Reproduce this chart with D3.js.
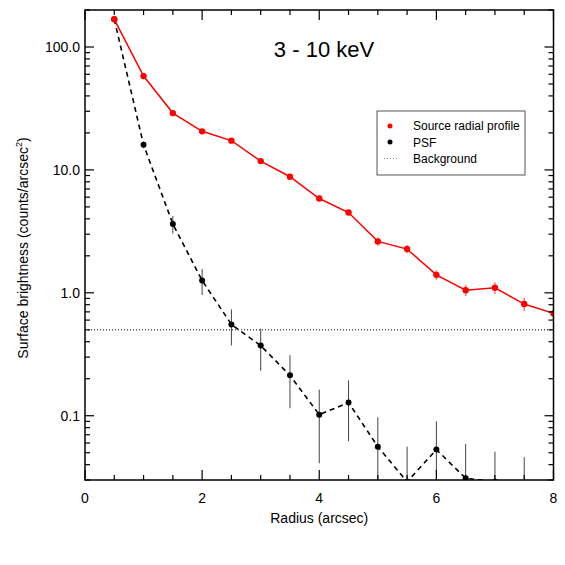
<!DOCTYPE html>
<html>
<head>
<meta charset="utf-8">
<script src="https://cdn.jsdelivr.net/npm/d3@7"></script>
<style>
  body { margin: 0; background: #fff; }
  text { font-family: "Liberation Sans", Arial, Helvetica, sans-serif; fill: #000; }
</style>
</head>
<body>
<script>
// ---- data ----
const radius = [0.5, 1.0, 1.5, 2.0, 2.5, 3.0, 3.5, 4.0, 4.5, 5.0, 5.5, 6.0, 6.5, 7.0, 7.5, 8.0];
const sourceValues = [168, 58, 29, 20.6, 17.3, 11.8, 8.8, 5.85, 4.5, 2.62, 2.27, 1.4, 1.05, 1.1, 0.81, 0.68];
const sourceErrors = [3, 1.5, 0.8, 0.6, 0.5, 0.4, 0.35, 0.25, 0.22, 0.2, 0.17, 0.13, 0.11, 0.12, 0.1, 0.08];
const psfValues = [168, 16.0, 3.63, 1.26, 0.553, 0.372, 0.213, 0.102, 0.128, 0.056, 0.029, 0.053, 0.031, 0.029, 0.021, 0.019];
const psfErrors = [3, 1.0, 0.59, 0.30, 0.18, 0.14, 0.098, 0.061, 0.066, 0.041, 0.027, 0.037, 0.028, 0.022, 0.025, 0.02];
const background = 0.5;
const yTickValues = [0.1, 1, 10, 100];
const yTickLabels = ["0.1", "1.0", "10.0", "100.0"];
const xTickValues = [0, 2, 4, 6, 8];
const xTickLabels = ["0", "2", "4", "6", "8"];
const title = "3 - 10 keV";
const xLabel = "Radius (arcsec)";
const legendLabels = ["Source radial profile", "PSF", "Background"];

// ---- layout ----
const W = 565, H = 565;
const margin = { left: 85, right: 11.5, top: 10, bottom: 85 };
const iw = W - margin.left - margin.right, ih = H - margin.top - margin.bottom;

const svg = d3.select("body").append("svg").attr("width", W).attr("height", H);
const g = svg.append("g").attr("transform", `translate(${margin.left},${margin.top})`);

const x = d3.scaleLinear().domain([0, 8]).range([0, iw]);
const y = d3.scaleLog().domain([0.03, 200]).range([ih, 0]);

svg.append("defs").append("clipPath").attr("id", "clip")
  .append("rect").attr("x", 0).attr("y", 0).attr("width", iw).attr("height", ih);

const plot = g.append("g").attr("clip-path", "url(#clip)");

// background line
plot.append("line")
  .attr("x1", x(0)).attr("x2", x(8))
  .attr("y1", y(background)).attr("y2", y(background))
  .attr("stroke", "#000").attr("stroke-width", 1).attr("stroke-dasharray", "1,2");

const safeLow = (v, e) => (v - e > 1e-4 ? v - e : 1e-4);

// PSF
const psf = radius.map((r, i) => ({ r, v: psfValues[i], e: psfErrors[i] }));
plot.selectAll(".psfErr").data(psf).enter().append("line")
  .attr("x1", d => x(d.r)).attr("x2", d => x(d.r))
  .attr("y1", d => y(d.v + d.e)).attr("y2", d => y(safeLow(d.v, d.e)))
  .attr("stroke", "#444").attr("stroke-width", 1);
plot.append("path").datum(psf)
  .attr("d", d3.line().x(d => x(d.r)).y(d => y(d.v)))
  .attr("fill", "none").attr("stroke", "#000").attr("stroke-width", 1.6)
  .attr("stroke-dasharray", "5,4");
plot.selectAll(".psfPt").data(psf).enter().append("circle")
  .attr("cx", d => x(d.r)).attr("cy", d => y(d.v)).attr("r", 3).attr("fill", "#000");

// Source
const src = radius.map((r, i) => ({ r, v: sourceValues[i], e: sourceErrors[i] }));
plot.selectAll(".srcErr").data(src).enter().append("line")
  .attr("x1", d => x(d.r)).attr("x2", d => x(d.r))
  .attr("y1", d => y(d.v + d.e)).attr("y2", d => y(safeLow(d.v, d.e)))
  .attr("stroke", "#ff0000").attr("stroke-opacity", 0.55).attr("stroke-width", 1.5);
plot.append("path").datum(src)
  .attr("d", d3.line().x(d => x(d.r)).y(d => y(d.v)))
  .attr("fill", "none").attr("stroke", "#ff0000").attr("stroke-width", 1.5);
plot.selectAll(".srcPt").data(src).enter().append("circle")
  .attr("cx", d => x(d.r)).attr("cy", d => y(d.v)).attr("r", 3.2).attr("fill", "#ff0000");

// ---- axes (IDL style, inward ticks on all four sides) ----
const axes = g.append("g");
axes.append("rect").attr("x", 0).attr("y", 0).attr("width", iw).attr("height", ih)
  .attr("fill", "none").attr("stroke", "#000").attr("stroke-width", 1.5);

const xMinor = d3.range(0, 8.001, 0.5);
xMinor.forEach(v => {
  const major = xTickValues.includes(v);
  const len = major ? 10 : 5;
  axes.append("line").attr("x1", x(v)).attr("x2", x(v)).attr("y1", ih).attr("y2", ih - len)
    .attr("stroke", "#000").attr("stroke-width", 1.2);
  axes.append("line").attr("x1", x(v)).attr("x2", x(v)).attr("y1", 0).attr("y2", len)
    .attr("stroke", "#000").attr("stroke-width", 1.2);
});
const yMinor = [];
[0.01, 0.1, 1, 10, 100].forEach(dec => {
  for (let k = 1; k <= 9; k++) {
    const v = dec * k;
    if (v >= 0.03 && v <= 200) yMinor.push({ v, major: k === 1 });
  }
});
yMinor.forEach(t => {
  const len = t.major ? 9 : 5;
  axes.append("line").attr("x1", 0).attr("x2", len).attr("y1", y(t.v)).attr("y2", y(t.v))
    .attr("stroke", "#000").attr("stroke-width", 1.2);
  axes.append("line").attr("x1", iw).attr("x2", iw - len).attr("y1", y(t.v)).attr("y2", y(t.v))
    .attr("stroke", "#000").attr("stroke-width", 1.2);
});

// tick labels
xTickValues.forEach((v, i) => {
  g.append("text").attr("x", x(v)).attr("y", ih + 23).attr("text-anchor", "middle")
    .attr("font-size", 14).text(xTickLabels[i]);
});
yTickValues.forEach((v, i) => {
  g.append("text").attr("x", -5).attr("y", y(v) + 5).attr("text-anchor", "end")
    .attr("font-size", 14).text(yTickLabels[i]);
});

// axis titles
g.append("text").attr("x", iw / 2).attr("y", ih + 43).attr("text-anchor", "middle")
  .attr("font-size", 14).text(xLabel);
const yl = svg.append("text").attr("transform", `translate(28,${margin.top + 238}) rotate(-90)`)
  .attr("text-anchor", "middle").attr("font-size", 14);
yl.append("tspan").text("Surface brightness (counts/arcsec");
yl.append("tspan").attr("font-size", 9).attr("dy", -6).text("2");
yl.append("tspan").attr("dy", 6).text(")");

// title
svg.append("text").attr("x", 324).attr("y", 56.5).attr("text-anchor", "middle")
  .attr("font-size", 22).text(title);

// legend
const lg = svg.append("g").attr("transform", "translate(377,111)");
lg.append("rect").attr("x", 0).attr("y", 0).attr("width", 148).attr("height", 64)
  .attr("fill", "#fff").attr("stroke", "#555").attr("stroke-width", 1);
lg.append("circle").attr("cx", 13).attr("cy", 15).attr("r", 2.5).attr("fill", "#ff0000");
lg.append("circle").attr("cx", 13).attr("cy", 31).attr("r", 2.5).attr("fill", "#000");
lg.append("line").attr("x1", 7).attr("x2", 20).attr("y1", 47.5).attr("y2", 47.5)
  .attr("stroke", "#888").attr("stroke-width", 1).attr("stroke-dasharray", "1,2");
legendLabels.forEach((t, i) => {
  lg.append("text").attr("x", 36).attr("y", 19 + i * 16.5).attr("font-size", 12).text(t);
});
</script>
</body>
</html>
